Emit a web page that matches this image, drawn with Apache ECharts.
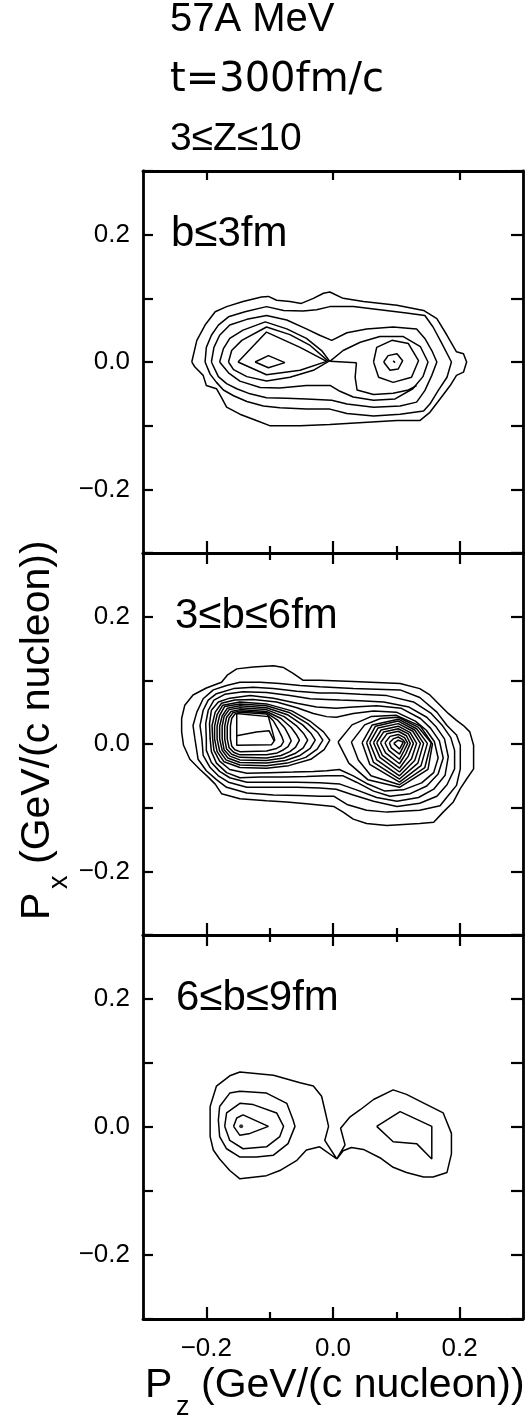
<!DOCTYPE html>
<html><head><meta charset="utf-8">
<script src="https://cdn.jsdelivr.net/npm/echarts@6/dist/echarts.min.js"></script>
<style>html,body{margin:0;padding:0;background:#fff}#c{width:528px;height:1418px}</style>
</head><body><div id="c"></div>
<script>
// ---------- text ----------
const HEADER = ['57A MeV', 't=300fm/c', '3\u2264Z\u226410'];
const PANEL_LABELS = ['b\u22643fm', '3\u2264b\u22646fm', '6\u2264b\u22649fm'];
const AXIS_TITLE_MAIN = 'P';
const AXIS_TITLE_REST = '(GeV/(c nucleon))';
const X_SUB = 'z', Y_SUB = 'x';
const MAJOR_TICKS = [-0.2, 0, 0.2];
const MINOR_TICKS = [-0.1, 0.1];
const AXIS_MIN = -0.3, AXIS_MAX = 0.3, AXIS_STEP = 0.1;

// ---------- panel 1 : b<=3fm (pz, px) ----------
const TOP_A = [[-0.223,0.000],[-0.215,0.034],[-0.202,0.058],[-0.186,0.079],[-0.168,0.087],[-0.142,0.095],[-0.113,0.102],[-0.102,0.103],[-0.089,0.097],[-0.068,0.095],[-0.050,0.092],[-0.031,0.100],[-0.015,0.108],[-0.005,0.110],[0.016,0.100],[0.048,0.095],[0.101,0.089],[0.143,0.081],[0.164,0.068],[0.180,0.042],[0.195,0.016],[0.206,0.013],[0.211,0.000],[0.206,-0.016],[0.195,-0.021],[0.185,-0.037],[0.169,-0.058],[0.153,-0.079],[0.137,-0.092],[0.101,-0.092],[0.048,-0.095],[-0.005,-0.098],[-0.052,-0.100],[-0.100,-0.100],[-0.121,-0.092],[-0.147,-0.082],[-0.168,-0.071],[-0.176,-0.056],[-0.184,-0.042],[-0.200,-0.037],[-0.205,-0.021],[-0.218,-0.008]];
const TOP_B = [[-0.202,0.000],[-0.200,0.023],[-0.192,0.042],[-0.181,0.058],[-0.165,0.071],[-0.139,0.079],[-0.105,0.087],[-0.078,0.081],[-0.047,0.080],[-0.026,0.082],[-0.005,0.087],[0.032,0.087],[0.074,0.082],[0.116,0.077],[0.145,0.073],[0.158,0.055],[0.172,0.029],[0.187,0.000],[0.180,-0.024],[0.166,-0.045],[0.153,-0.066],[0.143,-0.077],[0.106,-0.082],[0.064,-0.085],[0.022,-0.081],[-0.005,-0.074],[-0.042,-0.074],[-0.084,-0.072],[-0.110,-0.069],[-0.136,-0.062],[-0.157,-0.053],[-0.173,-0.044],[-0.184,-0.032],[-0.194,-0.019]];
const TOP_C = [[-0.192,0.000],[-0.188,0.023],[-0.179,0.042],[-0.163,0.058],[-0.136,0.067],[-0.105,0.073],[-0.073,0.066],[-0.042,0.052],[-0.021,0.042],[-0.002,0.034],[0.022,0.046],[0.053,0.052],[0.095,0.055],[0.132,0.052],[0.145,0.037],[0.156,0.018],[0.164,0.000],[0.156,-0.021],[0.145,-0.045],[0.132,-0.063],[0.106,-0.069],[0.064,-0.071],[0.022,-0.066],[-0.002,-0.060],[-0.042,-0.058],[-0.073,-0.057],[-0.105,-0.056],[-0.131,-0.050],[-0.152,-0.042],[-0.168,-0.034],[-0.181,-0.023]];
const TOP_D = [[-0.179,0.000],[-0.173,0.021],[-0.163,0.037],[-0.142,0.050],[-0.107,0.063],[-0.073,0.052],[-0.042,0.037],[-0.018,0.018],[-0.005,0.001],[0.016,0.018],[0.043,0.031],[0.074,0.040],[0.111,0.040],[0.138,0.024],[0.150,0.000],[0.142,-0.023],[0.126,-0.042],[0.098,-0.058],[0.064,-0.060],[0.032,-0.055],[0.011,-0.046],[-0.004,-0.037],[-0.042,-0.037],[-0.084,-0.041],[-0.115,-0.040],[-0.147,-0.030],[-0.165,-0.017]];
const TOP_E = [[-0.165,0.000],[-0.160,0.018],[-0.144,0.034],[-0.105,0.055],[-0.068,0.043],[-0.036,0.026],[-0.007,0.001],[-0.031,-0.013],[-0.068,-0.024],[-0.105,-0.030],[-0.136,-0.023],[-0.157,-0.012]];
const TOP_F = [[-0.150,0.000],[-0.105,0.047],[-0.052,0.023],[-0.010,0.001],[-0.052,-0.013],[-0.105,-0.020]];
const TOP_G = [[-0.123,0.000],[-0.102,0.010],[-0.076,-0.001],[-0.102,-0.009]];
const TOP_H = [[0.064,0.000],[0.069,0.023],[0.093,0.034],[0.119,0.029],[0.135,0.002],[0.124,-0.024],[0.095,-0.032],[0.072,-0.024]];
const TOP_I = [[0.080,0.000],[0.087,0.010],[0.101,0.013],[0.110,0.002],[0.103,-0.011],[0.090,-0.013]];
const TOP_J = [[0.095,0.002],[0.098,0.002],[0.098,-0.001],[0.095,-0.001]];
const TOP_BRIDGE = [[-0.005,0.001],[0.037,-0.001]];
const TOP_ER = [[0.037,-0.001],[0.035,-0.024],[0.038,-0.044],[0.064,-0.051],[0.095,-0.049],[0.119,-0.044],[0.132,-0.037]];

// ---------- panel 2 : 3<=b<=6fm ----------
const MID_A = [[-0.239,0.040],[-0.234,0.061],[-0.221,0.077],[-0.200,0.088],[-0.176,0.097],[-0.167,0.108],[-0.152,0.118],[-0.126,0.121],[-0.094,0.123],[-0.078,0.120],[-0.063,0.111],[-0.047,0.100],[-0.021,0.100],[0.032,0.098],[0.106,0.095],[0.137,0.087],[0.153,0.077],[0.169,0.061],[0.182,0.048],[0.195,0.037],[0.206,0.029],[0.216,0.019],[0.222,-0.002],[0.222,-0.039],[0.211,-0.055],[0.201,-0.070],[0.190,-0.091],[0.174,-0.107],[0.159,-0.123],[0.137,-0.125],[0.085,-0.128],[0.053,-0.125],[0.032,-0.118],[0.016,-0.107],[0.001,-0.098],[-0.042,-0.094],[-0.073,-0.091],[-0.105,-0.089],[-0.147,-0.086],[-0.176,-0.078],[-0.186,-0.063],[-0.197,-0.052],[-0.210,-0.040],[-0.226,-0.024],[-0.236,-0.002],[-0.239,0.019]];
const MID_B = [[-0.218,0.008],[-0.221,0.029],[-0.215,0.050],[-0.205,0.071],[-0.189,0.085],[-0.168,0.092],[-0.147,0.097],[-0.115,0.097],[-0.084,0.095],[-0.052,0.092],[-0.021,0.090],[0.032,0.087],[0.106,0.085],[0.137,0.073],[0.164,0.050],[0.180,0.029],[0.195,0.014],[0.201,-0.002],[0.201,-0.039],[0.195,-0.065],[0.182,-0.081],[0.169,-0.097],[0.137,-0.104],[0.085,-0.107],[0.053,-0.104],[0.022,-0.095],[0.001,-0.082],[-0.021,-0.082],[-0.052,-0.081],[-0.094,-0.080],[-0.136,-0.077],[-0.168,-0.068],[-0.184,-0.056],[-0.200,-0.042],[-0.213,-0.024]];
const MID_C = [[-0.207,0.008],[-0.210,0.029],[-0.205,0.053],[-0.197,0.069],[-0.184,0.079],[-0.157,0.087],[-0.126,0.089],[-0.094,0.087],[-0.057,0.083],[-0.021,0.080],[0.005,0.080],[0.043,0.078],[0.085,0.076],[0.127,0.066],[0.155,0.048],[0.172,0.030],[0.186,0.010],[0.192,-0.010],[0.192,-0.039],[0.180,-0.064],[0.164,-0.082],[0.137,-0.093],[0.101,-0.098],[0.064,-0.090],[0.032,-0.080],[0.005,-0.071],[-0.021,-0.069],[-0.057,-0.068],[-0.094,-0.068],[-0.136,-0.068],[-0.165,-0.060],[-0.181,-0.050],[-0.194,-0.037],[-0.205,-0.018]];
const MID_D = [[-0.200,0.008],[-0.201,0.032],[-0.197,0.053],[-0.188,0.069],[-0.171,0.078],[-0.142,0.082],[-0.105,0.081],[-0.068,0.076],[-0.036,0.071],[-0.010,0.070],[0.011,0.069],[0.043,0.068],[0.080,0.066],[0.120,0.058],[0.148,0.042],[0.162,0.028],[0.176,0.008],[0.182,-0.020],[0.177,-0.049],[0.159,-0.071],[0.135,-0.084],[0.101,-0.090],[0.069,-0.084],[0.037,-0.072],[0.011,-0.063],[-0.021,-0.061],[-0.057,-0.060],[-0.094,-0.060],[-0.136,-0.060],[-0.163,-0.053],[-0.179,-0.043],[-0.192,-0.029],[-0.200,-0.010]];
const MID_E = [[-0.194,0.008],[-0.195,0.032],[-0.192,0.053],[-0.181,0.066],[-0.163,0.072],[-0.131,0.076],[-0.094,0.072],[-0.057,0.064],[-0.026,0.058],[0.005,0.056],[0.032,0.058],[0.069,0.060],[0.108,0.056],[0.138,0.040],[0.154,0.025],[0.168,0.005],[0.174,-0.022],[0.166,-0.047],[0.148,-0.066],[0.122,-0.078],[0.090,-0.082],[0.064,-0.074],[0.037,-0.060],[0.016,-0.050],[-0.010,-0.050],[-0.042,-0.051],[-0.078,-0.052],[-0.115,-0.052],[-0.147,-0.053],[-0.168,-0.045],[-0.184,-0.030],[-0.192,-0.012]];
const MID_F = [[-0.190,0.008],[-0.191,0.029],[-0.186,0.050],[-0.176,0.064],[-0.155,0.069],[-0.126,0.070],[-0.089,0.066],[-0.057,0.057],[-0.031,0.048],[-0.010,0.043],[0.005,0.042],[0.032,0.048],[0.064,0.052],[0.100,0.050],[0.130,0.036],[0.147,0.022],[0.160,0.004],[0.166,-0.022],[0.159,-0.045],[0.140,-0.061],[0.111,-0.072],[0.082,-0.074],[0.053,-0.062],[0.032,-0.050],[0.010,-0.040],[-0.010,-0.042],[-0.031,-0.043],[-0.063,-0.044],[-0.100,-0.045],[-0.136,-0.046],[-0.163,-0.040],[-0.179,-0.027],[-0.188,-0.010]];
const MID_LL0 = [[-0.187,0.008],[-0.187,0.028],[-0.183,0.046],[-0.174,0.061],[-0.147,0.066],[-0.105,0.063],[-0.065,0.052],[-0.035,0.035],[-0.015,0.019],[-0.005,0.006],[-0.014,-0.009],[-0.035,-0.024],[-0.070,-0.034],[-0.105,-0.038],[-0.147,-0.037],[-0.172,-0.028],[-0.183,-0.012]];
const MID_LL1 = [[-0.183,0.008],[-0.183,0.028],[-0.179,0.045],[-0.171,0.059],[-0.147,0.063],[-0.105,0.060],[-0.068,0.049],[-0.040,0.032],[-0.024,0.018],[-0.016,0.006],[-0.025,-0.008],[-0.043,-0.021],[-0.072,-0.030],[-0.105,-0.034],[-0.147,-0.033],[-0.169,-0.025],[-0.179,-0.011]];
const MID_LL2 = [[-0.179,0.008],[-0.179,0.028],[-0.175,0.044],[-0.167,0.056],[-0.147,0.060],[-0.105,0.057],[-0.072,0.046],[-0.048,0.030],[-0.035,0.017],[-0.028,0.006],[-0.036,-0.007],[-0.052,-0.018],[-0.075,-0.026],[-0.105,-0.030],[-0.147,-0.029],[-0.166,-0.022],[-0.175,-0.010]];
const MID_LL3 = [[-0.175,0.008],[-0.175,0.028],[-0.172,0.043],[-0.164,0.054],[-0.147,0.057],[-0.105,0.054],[-0.077,0.043],[-0.057,0.028],[-0.046,0.016],[-0.040,0.006],[-0.047,-0.006],[-0.060,-0.015],[-0.078,-0.022],[-0.105,-0.026],[-0.147,-0.025],[-0.163,-0.019],[-0.172,-0.009]];
const MID_LL4 = [[-0.171,0.008],[-0.171,0.028],[-0.168,0.042],[-0.161,0.051],[-0.147,0.054],[-0.105,0.051],[-0.082,0.040],[-0.066,0.026],[-0.058,0.015],[-0.053,0.006],[-0.059,-0.005],[-0.068,-0.012],[-0.082,-0.018],[-0.105,-0.022],[-0.147,-0.021],[-0.160,-0.016],[-0.168,-0.008]];
const MID_LL5 = [[-0.167,0.008],[-0.167,0.028],[-0.164,0.041],[-0.158,0.049],[-0.147,0.052],[-0.105,0.049],[-0.088,0.038],[-0.076,0.025],[-0.070,0.014],[-0.066,0.005],[-0.071,-0.004],[-0.078,-0.009],[-0.088,-0.014],[-0.105,-0.017],[-0.147,-0.017],[-0.157,-0.013],[-0.164,-0.006]];
const MID_LL6 = [[-0.162,0.008],[-0.162,0.028],[-0.160,0.040],[-0.155,0.047],[-0.147,0.050],[-0.105,0.047],[-0.094,0.036],[-0.086,0.022],[-0.081,0.012],[-0.078,0.004],[-0.082,-0.003],[-0.089,-0.007],[-0.105,-0.011],[-0.147,-0.012],[-0.155,-0.009],[-0.160,-0.003]];
const MID_QUAD = [[-0.152,0.048],[-0.102,0.043],[-0.092,0.006],[-0.097,-0.001],[-0.152,-0.002]];
const MID_SLIVER = [[-0.152,0.013],[-0.121,0.019],[-0.101,0.021],[-0.093,0.005]];
const MID_R1 = [[0.096,0.001],[0.103,0.006],[0.111,0.003],[0.105,-0.008]];
const MID_R2 = [[0.089,0.002],[0.095,0.008],[0.103,0.011],[0.110,0.007],[0.114,0.002],[0.110,-0.006],[0.105,-0.016],[0.092,-0.006]];
const MID_R3 = [[0.082,0.002],[0.090,0.012],[0.103,0.015],[0.113,0.010],[0.118,0.001],[0.112,-0.011],[0.105,-0.024],[0.088,-0.010]];
const MID_R4 = [[0.075,0.002],[0.085,0.016],[0.103,0.020],[0.116,0.013],[0.122,0.001],[0.115,-0.015],[0.105,-0.031],[0.083,-0.014]];
const MID_R5 = [[0.069,0.002],[0.080,0.019],[0.103,0.024],[0.119,0.016],[0.127,0.001],[0.119,-0.019],[0.105,-0.038],[0.078,-0.018]];
const MID_R6 = [[0.064,0.002],[0.076,0.022],[0.103,0.028],[0.122,0.018],[0.132,0.001],[0.124,-0.023],[0.105,-0.044],[0.074,-0.021]];
const MID_R7 = [[0.058,0.002],[0.071,0.025],[0.103,0.032],[0.126,0.020],[0.138,0.001],[0.129,-0.026],[0.105,-0.050],[0.069,-0.025]];
const MID_R8 = [[0.053,0.002],[0.067,0.028],[0.103,0.036],[0.129,0.022],[0.143,0.001],[0.134,-0.030],[0.105,-0.055],[0.064,-0.029]];
const MID_R9 = [[0.046,0.002],[0.062,0.030],[0.103,0.039],[0.132,0.024],[0.149,0.001],[0.139,-0.034],[0.105,-0.060],[0.058,-0.032]];
const MID_R10 = [[0.029,0.003],[0.050,0.030],[0.075,0.040],[0.103,0.042],[0.135,0.026],[0.155,0.002],[0.145,-0.037],[0.105,-0.064],[0.060,-0.050],[0.040,-0.025]];
const MID_R11 = [[0.008,0.003],[0.030,0.030],[0.060,0.043],[0.100,0.045],[0.138,0.028],[0.157,0.000],[0.150,-0.040],[0.105,-0.068],[0.055,-0.056],[0.025,-0.030]];

// ---------- panel 3 : 6<=b<=9fm ----------
const BOT_L1 = [[-0.194,0.032],[-0.184,0.064],[-0.163,0.080],[-0.147,0.086],[-0.094,0.081],[-0.052,0.069],[-0.031,0.064],[-0.018,0.048],[-0.013,0.027],[-0.007,0.001],[-0.013,-0.021],[0.006,-0.050],[-0.021,-0.031],[-0.042,-0.036],[-0.057,-0.052],[-0.084,-0.068],[-0.105,-0.076],[-0.147,-0.081],[-0.163,-0.068],[-0.179,-0.050],[-0.189,-0.036],[-0.194,-0.015]];
const BOT_R1 = [[0.006,-0.050],[0.019,-0.028],[0.012,-0.002],[0.027,0.016],[0.043,0.027],[0.064,0.043],[0.095,0.058],[0.116,0.051],[0.148,0.035],[0.174,0.022],[0.187,-0.010],[0.187,-0.042],[0.180,-0.071],[0.158,-0.078],[0.143,-0.078],[0.116,-0.071],[0.095,-0.063],[0.074,-0.048],[0.048,-0.035],[0.029,-0.032],[0.016,-0.037]];
const BOT_L2 = [[-0.179,0.032],[-0.163,0.053],[-0.147,0.056],[-0.105,0.053],[-0.073,0.037],[-0.063,0.011],[-0.060,0.001],[-0.071,-0.026],[-0.094,-0.044],[-0.121,-0.047],[-0.147,-0.047],[-0.168,-0.034],[-0.179,-0.015],[-0.181,0.011]];
const BOT_L3 = [[-0.171,0.001],[-0.168,0.022],[-0.147,0.037],[-0.126,0.035],[-0.089,0.022],[-0.078,0.001],[-0.084,-0.015],[-0.105,-0.031],[-0.142,-0.034],[-0.163,-0.021]];
const BOT_L4 = [[-0.157,0.001],[-0.152,0.014],[-0.142,0.019],[-0.102,0.001],[-0.131,-0.010],[-0.147,-0.013]];
const BOT_R2 = [[0.069,0.001],[0.106,0.024],[0.156,0.001],[0.156,-0.050],[0.132,-0.026],[0.095,-0.023]];
const BOT_DOT = [[-0.145,0.001]];

const PANELS = [
  { closed: [TOP_A, TOP_B, TOP_C, TOP_D, TOP_E, TOP_F, TOP_G, TOP_H, TOP_I, TOP_J], open: [TOP_BRIDGE, TOP_ER], dots: [] },
  { closed: [MID_A, MID_B, MID_C, MID_D, MID_E, MID_F, MID_LL0, MID_LL1, MID_LL2, MID_LL3, MID_LL4, MID_LL5, MID_LL6, MID_QUAD,
             MID_R1, MID_R2, MID_R3, MID_R4, MID_R5, MID_R6, MID_R7, MID_R8, MID_R9, MID_R10, MID_R11], open: [MID_SLIVER], dots: [] },
  { closed: [BOT_L1, BOT_R1, BOT_L2, BOT_L3, BOT_L4, BOT_R2], open: [], dots: BOT_DOT }
];

// ---------- layout ----------
const GRID_TOP = [171, 553, 935];
const GRID_H = [382, 382, 384];
const GRID_LEFT = 143, GRID_W = 380;
const LABEL_FONT = '"Liberation Sans", Arial, sans-serif';

function fmt(v) {
  const r = Math.round(v * 10);
  if (r % 2 !== 0 || Math.abs(r) > 2) return '';
  return (r < 0 ? '\u2212' : '') + Math.abs(r / 10).toFixed(1);
}

const grids = [], xAxes = [], yAxes = [], series = [];
function xAxis(gi, pos, ticks, len, showLine, showLabels) {
  xAxes.push({
    type: 'value', gridIndex: gi, position: pos, min: AXIS_MIN, max: AXIS_MAX, interval: AXIS_STEP,
    axisLine: { show: showLine, onZero: false, lineStyle: { color: '#000', width: 2.8 } },
    axisTick: { show: true, inside: true, length: len, customValues: ticks, lineStyle: { color: '#000', width: 2.2 } },
    axisLabel: showLabels ? { show: true, customValues: MAJOR_TICKS, formatter: fmt, margin: 17, color: '#000', fontSize: 26, fontFamily: LABEL_FONT }
                          : { show: false },
    splitLine: { show: false }
  });
  return xAxes.length - 1;
}
function yAxis(gi, pos, len, showLabels) {
  yAxes.push({
    type: 'value', gridIndex: gi, position: pos, min: AXIS_MIN, max: AXIS_MAX, interval: AXIS_STEP,
    axisLine: { show: true, onZero: false, lineStyle: { color: '#000', width: 2.8 } },
    axisTick: { show: true, inside: true, length: len, lineStyle: { color: '#000', width: 2.2 } },
    axisLabel: showLabels ? { show: true, customValues: MAJOR_TICKS, formatter: fmt, margin: 13, color: '#000', fontSize: 26, fontFamily: LABEL_FONT }
                          : { show: false },
    splitLine: { show: false }
  });
  return yAxes.length - 1;
}

PANELS.forEach((p, gi) => {
  grids.push({ left: GRID_LEFT, width: GRID_W, top: GRID_TOP[gi], height: GRID_H[gi], containLabel: false });
  const xi = xAxis(gi, 'bottom', MAJOR_TICKS, 12, true, gi === 2);
  xAxis(gi, 'bottom', MINOR_TICKS, 7, false, false);
  xAxis(gi, 'top', MAJOR_TICKS, gi === 0 ? 9 : 11, true, false);
  if (gi > 0) xAxis(gi, 'top', MINOR_TICKS, 7, false, false);
  const yi = yAxis(gi, 'left', 10, true);
  yAxis(gi, 'right', 12, false);
  const add = (d, close) => series.push({
    type: 'line', xAxisIndex: xi, yAxisIndex: yi, data: close ? d.concat([d[0]]) : d,
    showSymbol: false, symbol: 'none', smooth: false, silent: true, clip: true,
    lineStyle: { color: '#000', width: 1.5 }
  });
  p.closed.forEach(d => add(d, true));
  p.open.forEach(d => add(d, false));
  if (p.dots.length) series.push({ type: 'scatter', xAxisIndex: xi, yAxisIndex: yi, data: p.dots, symbolSize: 4, itemStyle: { color: '#000' }, silent: true });
});

const txt = (x, y, text, size, family, extra) => Object.assign({
  type: 'text', x: x, y: y,
  style: { text: text, fontSize: size, fontFamily: family || LABEL_FONT, fill: '#000', align: 'left', verticalAlign: 'middle' }
}, extra || {});

const graphic = [
  txt(170, 20, HEADER[0], 40),
  txt(170, 81, HEADER[1], 40, '"DejaVu Sans", sans-serif'),
  txt(170, 139, HEADER[2], 39),
  txt(171, 234, PANEL_LABELS[0], 42),
  txt(175, 616, PANEL_LABELS[1], 42),
  txt(176, 998, PANEL_LABELS[2], 42),
  txt(145, 1386, AXIS_TITLE_MAIN, 41),
  txt(176, 1408, X_SUB, 27),
  txt(201, 1386, AXIS_TITLE_REST, 41),
  { type: 'group', x: 38, y: 732, rotation: Math.PI / 2, children: [
      txt(-188, 0, AXIS_TITLE_MAIN, 41),
      txt(-157, 22, Y_SUB, 27),
      txt(-132, 0, AXIS_TITLE_REST, 41)
  ]}
];

const chart = echarts.init(document.getElementById('c'), null, { renderer: 'canvas' });
chart.setOption({
  animation: false,
  backgroundColor: '#fff',
  grid: grids, xAxis: xAxes, yAxis: yAxes, series: series, graphic: graphic
});
</script></body></html>
